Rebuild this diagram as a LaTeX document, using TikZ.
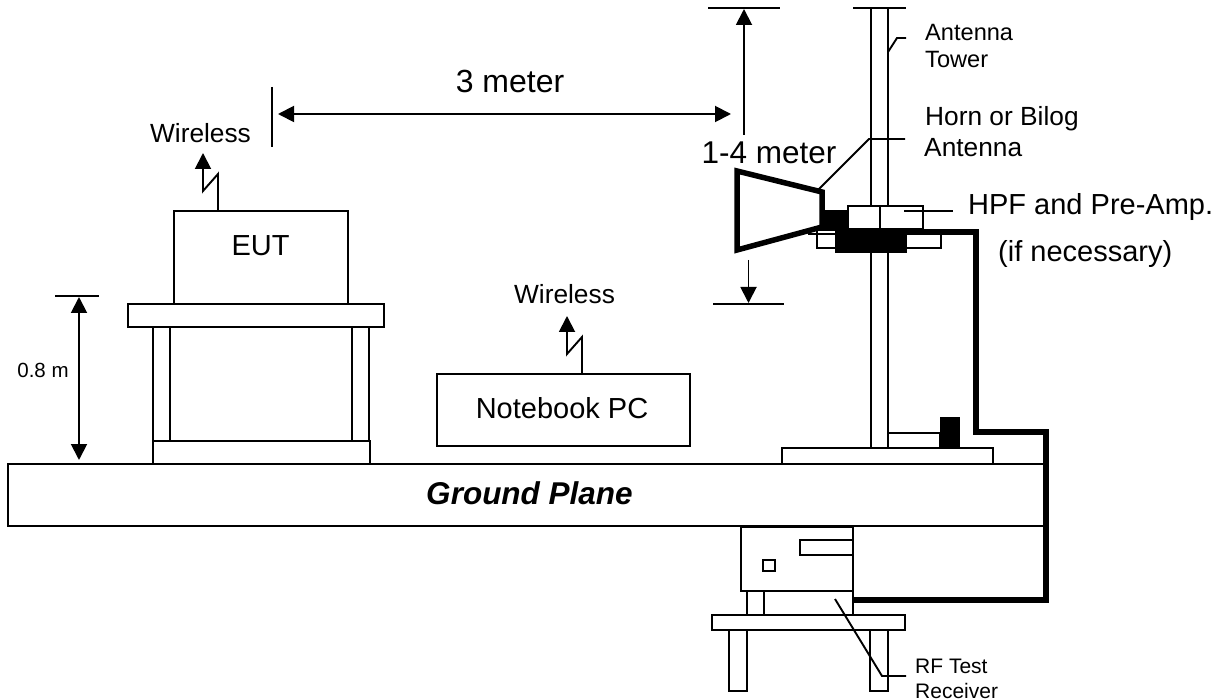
\documentclass[tikz,border=0pt]{standalone}
\usepackage{fontspec}
\setmainfont{Liberation Sans}
\usetikzlibrary{arrows.meta}
\tikzset{
  thin line/.style={line width=1.9pt,draw=black},
  boxw/.style={line width=1.9pt,draw=black,fill=white},
  solidk/.style={fill=black,draw=black,line width=0.5pt},
  heavy/.style={line width=5.6pt,draw=black,line join=miter},
  dim/.style={line width=1.9pt,draw=black,-{Triangle[length=16pt,width=16pt]}},
  dimb/.style={line width=1.9pt,draw=black,{Triangle[length=16pt,width=16pt]}-{Triangle[length=16pt,width=16pt]}},
  txt/.style={inner sep=0pt,anchor=base},
  txtl/.style={inner sep=0pt,anchor=base west},
}
\newcommand{\fsz}[1]{\fontsize{#1}{#1}\selectfont}
\begin{document}
\begin{tikzpicture}[x=1pt,y=-1pt]
\useasboundingbox (0,0) rectangle (1229,700);
% ground plane
\draw[boxw] (8,464) rectangle (1044,526);
\node[txt] (ground) at (529.5,504) {\fsz{31.5}\bfseries\itshape Ground Plane};
% EUT table
\draw[boxw] (153,327) rectangle (170,441);
\draw[boxw] (352,327) rectangle (369,441);
\draw[boxw] (153,441) rectangle (370,464);
\draw[boxw] (128,304) rectangle (384,327);
\draw[boxw] (174,211) rectangle (348,304);
\node[txt] (eut) at (260.5,256) {\fsz{29}EUT};
% 0.8 m
\coordinate (h0) at (55,296); \coordinate (h1) at (99,296);
\draw[thin line] (h0) -- (h1);
\coordinate (ha) at (79,297); \coordinate (hb) at (79,460);
\draw[dimb] (ha) -- (hb);
\node[txt] (hm) at (43,378) {\fsz{20.5}0.8 m};
% wireless 1
\node[txt] (w1) at (200.5,143) {\fsz{26.3}Wireless};
\coordinate (z1) at (218,211);
\draw[dim] (z1) -- (218,174) -- (203,191) -- (203,153);
% wireless 2 / notebook
\draw[boxw] (437,374) rectangle (690,446);
\node[txt] (nb) at (562,418) {\fsz{29}Notebook PC};
\node[txt] (w2) at (564.5,304) {\fsz{26.3}Wireless};
\coordinate (z2) at (582,374);
\draw[dim] (z2) -- (582,337) -- (567,354) -- (567,316);
% 3 meter
\coordinate (t3a) at (272,87); \coordinate (t3b) at (272,147);
\draw[thin line] (t3a) -- (t3b);
\coordinate (d3a) at (278,114); \coordinate (d3b) at (731,114);
\draw[dimb] (d3a) -- (d3b);
\node[txt] (m3) at (510,93) {\fsz{32}3 meter};
% 1-4 meter
\draw[thin line] (708,8) -- (780,8);
\draw[thin line] (713,304) -- (784,304);
\coordinate (d4a) at (744,135); \coordinate (d4b) at (744,9);
\draw[dim] (d4a) -- (d4b);
\coordinate (d5a) at (748.5,260); \coordinate (d5b) at (748.5,303);
\draw[dim] (d5a) -- (d5b);
\node[txt] (m4) at (769,164) {\fsz{31.5}1-4 meter};
% tower
\draw[thin line] (853,8) -- (906,8);
\draw[boxw] (871,8) rectangle (888,449);
% leaders
\draw[thin line] (888,52) -- (897,38) -- (906,38);
\draw[thin line] (818,190) -- (869,139) -- (905,139);
% base
\draw[boxw] (888,433) rectangle (940,448);
\fill[solidk] (940,417) rectangle (959,448);
\draw[boxw] (782,448) rectangle (993,464);
% antenna mount
\draw[boxw] (817,230) rectangle (941,248);
\draw[thin line] (808,234) -- (835,234);
\fill[solidk] (835,230) rectangle (906,252);
\draw[boxw] (848,206) rectangle (923,229);
\draw[thin line] (880,206) -- (880,229);
\fill[solidk] (823,210) rectangle (848,230);
\draw[thin line] (904,211) -- (953,211);
% horn
\draw[line width=5.5pt,fill=white,line join=miter] (737,171) -- (822,192) -- (822,227) -- (737,250) -- cycle;
% cable
\coordinate (c0) at (848,232); \coordinate (c1) at (853,600);
\draw[heavy] (c0) -- (976,232) -- (976,432) -- (1046,432) -- (1046,600) -- (c1);
% receiver
\draw[boxw] (712,615) rectangle (905,630);
\draw[boxw] (729,630) rectangle (747,691);
\draw[boxw] (870,630) rectangle (888,691);
\draw[boxw] (747,591) rectangle (764,615);
\draw[thin line] (853,591) -- (853,615);
\draw[boxw] (741,527) rectangle (853,591);
\draw[boxw] (800,540) rectangle (853,555);
\draw[line width=1.2pt,draw=black] (763,560) rectangle (775,571);
\draw[thin line] (835,599) -- (882,676) -- (906,676);
% labels
\node[txtl] (at1) at (925,41) {\fsz{23.6}Antenna};
\node[txtl] (at2) at (925,68) {\fsz{23.6}Tower};
\node[txtl] (hb1) at (925,126) {\fsz{26.3}Horn or Bilog};
\node[txtl] (hb2) at (924,157) {\fsz{26.3}Antenna};
\node[txtl] (hpf) at (968,215) {\fsz{29}HPF and Pre-Amp.};
\node[txtl] (nec) at (998,262) {\fsz{29}(if necessary)};
\node[txtl] (rf1) at (915,673) {\fsz{21}RF Test};
\node[txtl] (rf2) at (915,698) {\fsz{21}Receiver};
\end{tikzpicture}
\end{document}
